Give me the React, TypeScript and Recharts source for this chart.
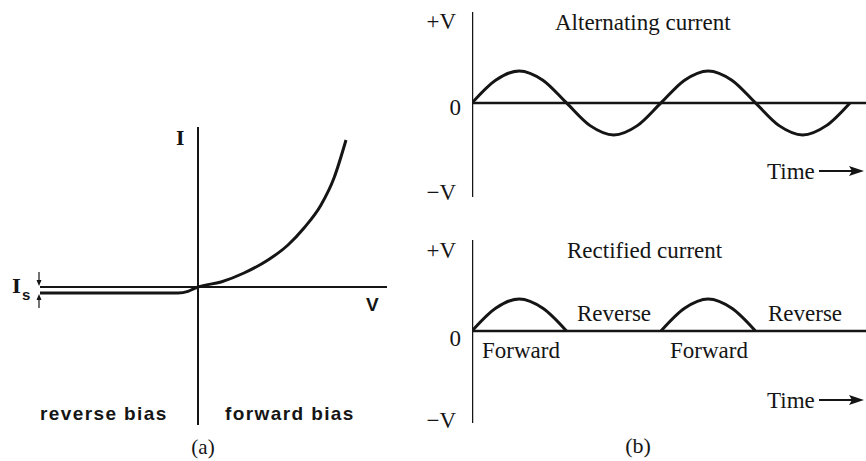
import type { CSSProperties, ReactNode } from 'react'
import { Line, LineChart, ReferenceLine, XAxis, YAxis } from 'recharts'

// (a) diode characteristic, V and I in arbitrary units
const diodeV = [-7.9, -4, -1.0, -0.5, -0.2, 0, 1.15, 2.3, 3.5, 4.5, 5.3, 6.15, 6.8, 7.4]
const diodeI = [-0.3, -0.3, -0.3, -0.22, -0.08, 0, 0.25, 0.7, 1.35, 2.1, 2.95, 4.1, 5.45, 7.35]

// (b) time in quarter periods, sampled every eighth of a period
const timeSteps = [0, 0.5, 1, 1.5, 2, 2.5, 3, 3.5, 4, 4.5, 5, 5.5, 6, 6.5, 7, 7.5, 8]
const acVolts = [0, 0.71, 1, 0.71, 0, -0.71, -1, -0.71, 0, 0.71, 1, 0.71, 0, -0.71, -1, -0.71, 0]
const rectifiedVolts = [0, 0.71, 1, 0.71, 0, null, null, null, 0, 0.71, 1, 0.71, 0, null, null, null, null]

const ivData = diodeV.map((v, i) => ({ v, i: diodeI[i] }))
const acData = timeSteps.map((t, k) => ({ t, volts: acVolts[k] }))
const rectData = timeSteps.map((t, k) => ({ t, volts: rectifiedVolts[k] }))

const INK = '#151515'
const SERIF = '"Liberation Serif", "Times New Roman", serif'
const SANS = '"Liberation Sans", Arial, sans-serif'
const SLAB = '"DejaVu Serif", serif'
const NO_MARGIN = { top: 0, right: 0, bottom: 0, left: 0 }

interface TxtProps {
  x: number
  y: number
  size: number
  anchor?: 'start' | 'middle' | 'end'
  font?: string
  bold?: boolean
  spacing?: number
  children: ReactNode
}

// absolutely placed label, x by anchor, y is the vertical centre
function Txt({ x, y, size, anchor = 'start', font = SERIF, bold = false, spacing = 0, children }: TxtProps) {
  const shift = anchor === 'middle' ? '-50%' : anchor === 'end' ? '-100%' : '0'
  const style: CSSProperties = {
    position: 'absolute',
    left: x,
    top: y,
    transform: `translate(${shift}, -50%)`,
    fontFamily: font,
    fontWeight: bold ? 700 : 400,
    fontSize: size,
    letterSpacing: spacing,
    lineHeight: 1,
    whiteSpace: 'nowrap',
    color: INK,
  }
  return <div style={style}>{children}</div>
}

function TimeArrow({ x, y }: { x: number; y: number }) {
  return (
    <svg style={{ position: 'absolute', left: x, top: y - 6 }} width={46} height={12}>
      <line x1={0} y1={6} x2={34} y2={6} stroke={INK} strokeWidth={2} />
      <polygon points="30,1 45,6 30,11 33,6" fill={INK} />
    </svg>
  )
}

function WavePanel({ top, height, domainY, data }: { top: number; height: number; domainY: [number, number]; data: { t: number; volts: number | null }[] }) {
  return (
    <div style={{ position: 'absolute', left: 472, top }}>
      <LineChart width={394} height={height} data={data} margin={NO_MARGIN}>
        <XAxis type="number" dataKey="t" domain={[0, 8.34]} allowDataOverflow hide />
        <YAxis type="number" domain={domainY} allowDataOverflow hide />
        <ReferenceLine x={0} stroke={INK} strokeWidth={2.5} />
        <ReferenceLine y={0} stroke={INK} strokeWidth={2.5} />
        <Line
          dataKey="volts"
          type="monotone"
          stroke={INK}
          strokeWidth={3}
          dot={false}
          connectNulls={false}
          isAnimationActive={false}
        />
      </LineChart>
    </div>
  )
}

export default function App() {
  return (
    <div style={{ position: 'fixed', left: 0, top: 0, width: 866, height: 461, background: '#ffffff', overflow: 'hidden' }}>
      {/* (a) diode I-V */}
      <div style={{ position: 'absolute', left: 40, top: 127 }}>
        <LineChart width={347} height={298} data={ivData} margin={NO_MARGIN}>
          <XAxis type="number" dataKey="v" domain={[-7.9, 9.45]} allowDataOverflow hide />
          <YAxis type="number" domain={[-6.9, 8]} allowDataOverflow hide />
          <ReferenceLine x={0} stroke={INK} strokeWidth={2} />
          <ReferenceLine y={0} stroke={INK} strokeWidth={2} />
          <Line dataKey="i" type="monotone" stroke={INK} strokeWidth={3} dot={false} isAnimationActive={false} />
        </LineChart>
      </div>
      <svg style={{ position: 'absolute', left: 33, top: 270 }} width={14} height={40}>
        <line x1={6} y1={2} x2={6} y2={14} stroke={INK} strokeWidth={1.2} />
        <polygon points="3.5,10 6,16 8.5,10" fill={INK} />
        <line x1={6} y1={38} x2={6} y2={27} stroke={INK} strokeWidth={1.2} />
        <polygon points="3.5,30 6,24 8.5,30" fill={INK} />
      </svg>
      <Txt x={12} y={286} size={19} font={SLAB} bold>I</Txt>
      <Txt x={22} y={294} size={15} font={SANS} bold>s</Txt>
      <Txt x={176} y={139} size={18} font={SLAB} bold>I</Txt>
      <Txt x={366} y={304} size={19} font={SANS} bold>V</Txt>
      <Txt x={40} y={413} size={19} font={SANS} bold spacing={1.4}>reverse bias</Txt>
      <Txt x={225} y={413} size={19} font={SANS} bold spacing={1.4}>forward bias</Txt>
      <Txt x={203} y={447} size={21} anchor="middle">(a)</Txt>

      {/* (b) alternating current */}
      <WavePanel top={12} height={185} domainY={[-2.94, 2.84]} data={acData} />
      <Txt x={456} y={21} size={23} anchor="end">+V</Txt>
      <Txt x={461} y={107} size={23} anchor="end">0</Txt>
      <Txt x={456} y={192} size={23} anchor="end">−V</Txt>
      <Txt x={555} y={22} size={23}>Alternating current</Txt>
      <Txt x={767} y={171} size={23}>Time</Txt>
      <TimeArrow x={819} y={171} />

      {/* (b) rectified current */}
      <WavePanel top={240} height={183} domainY={[-2.875, 2.84]} data={rectData} />
      <Txt x={456} y={250} size={23} anchor="end">+V</Txt>
      <Txt x={461} y={338} size={23} anchor="end">0</Txt>
      <Txt x={456} y={420} size={23} anchor="end">−V</Txt>
      <Txt x={567} y={250} size={23}>Rectified current</Txt>
      <Txt x={577} y={313} size={23}>Reverse</Txt>
      <Txt x={768} y={313} size={23}>Reverse</Txt>
      <Txt x={482} y={350} size={23}>Forward</Txt>
      <Txt x={670} y={350} size={23}>Forward</Txt>
      <Txt x={767} y={400} size={23}>Time</Txt>
      <TimeArrow x={819} y={400} />
      <Txt x={638} y={446} size={22} anchor="middle">(b)</Txt>
    </div>
  )
}
